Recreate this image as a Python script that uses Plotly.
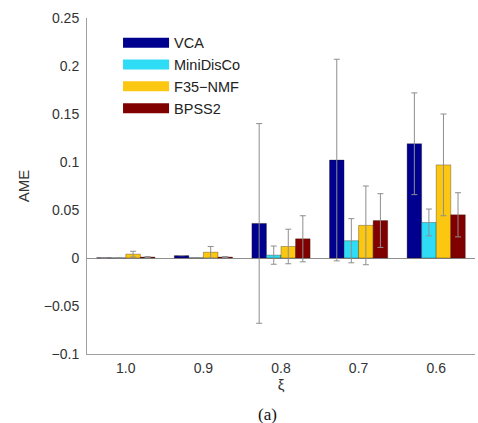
import plotly.graph_objects as go

categories = ["1.0", "0.9", "0.8", "0.7", "0.6"]
methods = ["VCA", "MiniDisCo", "F35\u2212NMF", "BPSS2"]
vca = [0.0003, 0.0025, 0.036, 0.102, 0.119]
vca_err = [0.0, 0.0, 0.104, 0.105, 0.053]
mini = [0.0002, 0.0003, 0.003, 0.018, 0.037]
mini_err = [0.0, 0.0, 0.0095, 0.023, 0.014]
f35 = [0.004, 0.006, 0.012, 0.034, 0.097]
f35_err = [0.003, 0.006, 0.018, 0.041, 0.053]
bpss2 = [0.001, 0.001, 0.020, 0.039, 0.045]
bpss2_err = [0.0005, 0.0005, 0.024, 0.028, 0.023]
yticks = [-0.1, -0.05, 0, 0.05, 0.1, 0.15, 0.2, 0.25]
ytick_labels = ["\u22120.1", "\u22120.05", "0", "0.05", "0.1", "0.15", "0.2", "0.25"]

colors = ["#00008f", "#2fdcf6", "#fcc711", "#800000"]
series = [vca, mini, f35, bpss2]
errors = [vca_err, mini_err, f35_err, bpss2_err]
xpos = list(range(1, len(categories) + 1))

fig = go.Figure()
for name, vals, errs, col in zip(methods, series, errors, colors):
    fig.add_trace(go.Bar(
        x=xpos, y=vals, name=name, showlegend=False,
        marker=dict(color=col, line=dict(color="rgba(40,20,0,0.55)", width=0.6)),
        error_y=dict(type="data", array=errs, visible=True,
                     color="#8e8e8e", thickness=1, width=3),
    ))
# legend entries drawn as thick line swatches
for name, col in zip(methods, colors):
    fig.add_trace(go.Scatter(
        x=[None], y=[None], mode="lines", name=name,
        line=dict(color=col, width=15),
    ))

fig.update_layout(
    width=478, height=423,
    margin=dict(l=87, r=3, t=18, b=69),
    paper_bgcolor="white", plot_bgcolor="white",
    barmode="group", bargap=0.25, bargroupgap=0.0,
    font=dict(family="Liberation Sans, Arial, sans-serif", size=14, color="#333333"),
    legend=dict(x=0.08, y=0.974, xanchor="left", yanchor="top",
                bgcolor="rgba(0,0,0,0)", font=dict(size=14.5, color="#222222"),
                itemwidth=46, tracegroupgap=0),
    xaxis=dict(range=[0.5, 5.5], tickmode="array", tickvals=xpos, ticktext=categories,
               showline=True, linecolor="#a0a0a0", linewidth=1, ticks="",
               showgrid=False, zeroline=False, ticklabelstandoff=1,
               title=dict(text="\u03be", standoff=2, font=dict(size=15))),
    yaxis=dict(range=[-0.1, 0.25], tickmode="array", tickvals=yticks, ticktext=ytick_labels,
               showline=True, linecolor="#a0a0a0", linewidth=1, ticks="",
               showgrid=False, zeroline=True, zerolinecolor="#8e8e8e", zerolinewidth=1,
               ticklabelstandoff=4,
               title=dict(text="AME", standoff=10, font=dict(size=15))),
)
fig.add_annotation(text="(a)", xref="paper", yref="paper", x=0.465, y=-0.18,
                   showarrow=False, yanchor="middle",
                   font=dict(family="Liberation Serif, Times New Roman, serif", size=17, color="#111111"))

fig.write_html("out.html", config={"displayModeBar": False},
               post_script="document.body.style.margin='0';")
